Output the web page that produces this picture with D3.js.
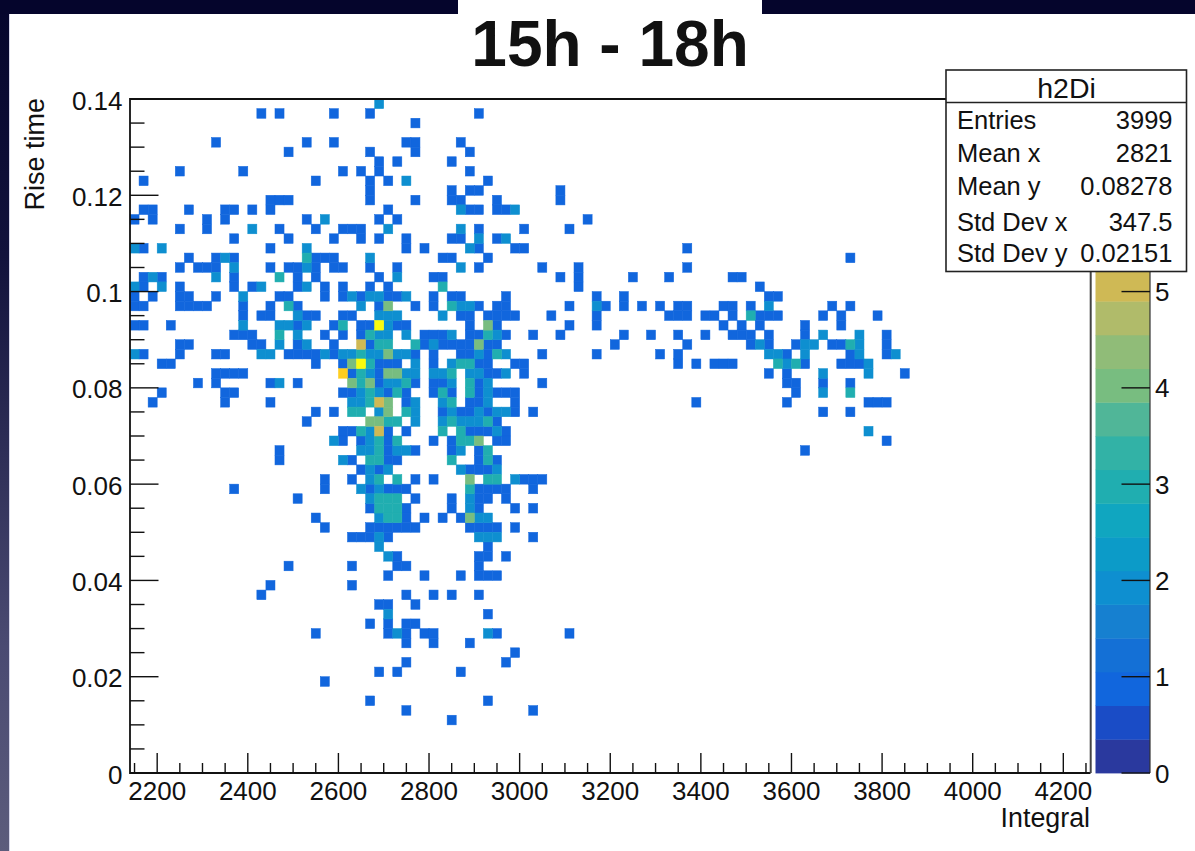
<!DOCTYPE html>
<html><head><meta charset="utf-8">
<script src="https://cdn.jsdelivr.net/npm/d3@7"></script>
<style>html,body{margin:0;padding:0;background:#fff;overflow:hidden}svg{display:block}text{font-family:"Liberation Sans",Arial,sans-serif;fill:#111}</style>
</head><body><svg id="c" width="1195" height="851"></svg>
<script>
// Bin edges: integral bin = 2140 + 20*i, rise-time bin = 0.002*j. Each list: [j,[i,i,...]]
const xBinStart = 2140, xBinWidth = 20, yBinWidth = 0.002;
const count1 = [[68,[14,16,22,26,38]],[67,[31]],[65,[9,19,22,30,31,36]],[64,[17,26,31,37]],[63,[27,29,35]],[62,[5,12,23,25,27,37]],
[61,[1,20,26,28,39]],[60,[26,35,37,38,47]],[59,[15,16,17,26,31,35,36,40,47]],[58,[1,2,6,10,11,13,15,28,37,38,40,41]],
[57,[0,2,8,10,19,27,29,50]],[56,[5,8,16,20,23,24,25,38,43,48]],[55,[11,17,22,25,27,30,35,36,40]],[54,[1,15,30,32,38,42,43,61]],
[53,[6,9,11,20,21,22,34,35,39,79]],[52,[5,7,8,9,15,17,18,20,22,23,26,29,38,45,49,61]],[51,[1,3,11,18,20,27,33,34,47,49,55,59,66,67]],
[50,[1,5,11,13,18,21,23,26,28,49,69]],[49,[0,2,5,6,9,16,17,21,23,25,28,29,33,35,36,41,51,54,70,71]],
[48,[0,1,5,6,7,8,12,15,18,27,31,33,38,40,41,48,52,54,56,58,60,61,65,66,68,77,79]],
[47,[12,14,15,19,20,23,24,36,37,39,40,41,42,46,51,59,60,61,63,64,66,69,70,71,76,78,82]],
[46,[0,1,4,18,22,25,26,29,30,37,40,48,51,65,67,69,74,78]],[45,[11,12,13,21,23,25,32,33,34,37,38,41,44,47,54,57,60,63,66,67,68,70,74,83]],
[44,[5,6,13,14,18,22,26,32,34,35,36,37,39,40,53,61,68,70,73,77,78,83]],[43,[1,5,9,10,17,18,19,20,22,31,33,36,37,39,45,51,58,60,72,79,83]],
[42,[3,4,20,23,27,28,29,33,38,39,42,43,60,62,64,65,66,74,78,79,80]],[41,[9,10,11,12,24,27,39,40,43,70,72,85]],
[40,[7,9,15,18,27,31,33,34,38,45,72,73,76,79]],[39,[3,10,11,23,24,28,30,33,35,38,40,41,42,73]],[38,[2,10,15,30,37,38,42,62,72,81,82,83]],
[37,[20,22,34,36,37,39,42,44,76,79]],[36,[19,40]],[35,[23,24,28,30,37,38,39,41]],[34,[23,25,28,33,35,40,41,83]],[33,[16,28,31,35,38,74]],
[32,[16,24,28,29,38,40]],[31,[25,27,37,38,39]],[30,[21,24,31,33,43,44,45]],[29,[11,21,26,28,29,30,38,39,40,41,44]],[28,[18,31,35,38,39,41]],
[27,[26,30,35,38,42,44]],[26,[20,30,32,34,36]],[25,[21,26,27,28,29,30,31,37,38,39,40,42]],[24,[24,25,26,28,44]],[23,[39]],[22,[29,38,39,41]],
[21,[17,24,29,30,38]],[20,[28,32,36,38,39,40]],[19,[15,24]],[18,[14,30,33,35,38]],[17,[27,28,31]],[16,[39]],[15,[26,28,30,31]],
[14,[20,28,30,32,33,40,48]],[13,[30,33,37]],[12,[42]],[11,[30,41]],[10,[27,29,36]],[9,[21]],[7,[26,39]],[6,[30,44]],[5,[35]]];
const count2 = [[69,[27]],[61,[30]],[58,[36,42]],[57,[21]],[56,[13,28,36]],[55,[38,41]],[54,[0,3,19,37]],[53,[10,26]],[52,[11,19,36]],
[51,[2,9,29]],[50,[0,3,14,19]],[49,[12,24,26,27,30]],[48,[25,36,37,51,70]],[47,[18,27,28,29,34]],[46,[12,16,17,19,28]],
[45,[18,27,28,30,35,40,76,80]],[44,[16,19,33,69,74,75,80]],[43,[0,14,15,21,23,24,26,27,29,30,38,41,70,71,74,80,84]],[42,[31,35,72,81]],
[41,[26,30,31,33,34,37,38,41,76,81]],[40,[16,28,29,35,39]],[39,[25,27,39,76]],[38,[24,25,31,34,39]],[37,[27,31,35,38,40,41]],[36,[31,34,36,37,38]],
[35,[26,40,81]],[34,[22,26]],[33,[25,26,29,30,36]],[32,[23]],[31,[26,28,36,40]],[30,[26,42]],[29,[25,27]],[28,[26,37]],[27,[37]],[26,[27,38,39]],
[24,[27,38,39,40]],[23,[27]],[22,[28]],[16,[28]],[14,[29,39]]];
const count3 = [[53,[19]],[51,[16]],[50,[34]],[48,[17,35]],[47,[68]],[46,[23]],[45,[16,26,39]],[44,[27,28,31,79]],[43,[25,40]],[42,[26,36,37,71,73]],
[41,[25,35]],[40,[25,30,37]],[39,[26,29,34,37,79]],[38,[26,35]],[37,[24,25,30]],[36,[28,29,35,39]],[35,[25,34,36]],[34,[27,29,36,37]],[33,[27,39]],
[32,[26,27,35,39]],[30,[27,29,39,40]],[29,[37]],[28,[27,28,29]],[27,[27,28,29]],[26,[28,29]]];
const count4 = [[48,[28]],[46,[39]],[44,[38]],[43,[28]],[42,[24]],[41,[28,29]],[40,[24,26]],[38,[28]],[37,[28]],[36,[26,27]],[34,[38]],[30,[37]],[26,[37]]];
const count5 = [[44,[25]],[38,[27]],[35,[27]]];
const count6 = [[41,[23]]];
const count7 = [[46,[27]],[42,[25]]];
const allCounts = [count1,count2,count3,count4,count5,count6,count7];

const xTicksMajor = [2200,2400,2600,2800,3000,3200,3400,3600,3800,4000,4200];
const yTicksMajor = [0,0.02,0.04,0.06,0.08,0.1,0.12,0.14];
const yTickLabels = ["0","0.02","0.04","0.06","0.08","0.1","0.12","0.14"];
const zTicks = [0,1,2,3,4,5];
const palette = ["#2a399e","#1a4cc6","#1166dd","#1470d6","#1680d0","#0e8fd0","#0c9bc8","#10a6c0","#20aeb0","#32b2a6","#50b698","#78bd80","#90bc78","#b0bb6a","#cfb955","#e2bc48","#f2c23a","#ffce20","#fce418","#f9fb0e"];
const statsTitle = "h2Di";
const statsNames = ["Entries","Mean x","Mean y","Std Dev x","Std Dev y"];
const statsValues = ["3999","2821","0.08278","347.5","0.02151"];
const statsBase = [128.5,161.5,195,231,261.5];

const svg = d3.select("#c");
const defs = svg.append("defs");
const g = defs.append("linearGradient").attr("id","wall").attr("x1",0).attr("x2",0).attr("y1",0).attr("y2",1);
g.append("stop").attr("offset",0).attr("stop-color","#05052c");
g.append("stop").attr("offset",0.3).attr("stop-color","#12123c");
g.append("stop").attr("offset",0.76).attr("stop-color","#4a4a72");
g.append("stop").attr("offset",1).attr("stop-color","#5c5c7c");
svg.append("rect").attr("width",1195).attr("height",851).attr("fill","#fff");
svg.append("rect").attr("x",0).attr("y",0).attr("width",9).attr("height",851).attr("fill","url(#wall)");
svg.append("rect").attr("x",9).attr("y",14).attr("width",1).attr("height",837).attr("fill","#d6d6ea");
svg.append("rect").attr("x",0).attr("y",0).attr("width",458).attr("height",14).attr("fill","#05052c");
svg.append("rect").attr("x",762).attr("y",0).attr("width",433).attr("height",14).attr("fill","#05052c");

const x = d3.scaleLinear().domain([2140,4260]).range([130,1090.5]);
const y = d3.scaleLinear().domain([0,0.14]).range([773,99]);
const z = d3.scaleLinear().domain([0,7]).range([773,99]);
const band = d3.scaleQuantize().domain([0,7]).range(palette);

// colour bar
const zStep = 7/palette.length;
svg.append("g").selectAll("rect").data(palette).join("rect")
  .attr("x",1095.5).attr("width",54.5)
  .attr("y",(d,i)=>z((i+1)*zStep)).attr("height",(d,i)=>z(i*zStep)-z((i+1)*zStep)+0.4)
  .attr("fill",d=>d);
const cells = allCounts.flatMap((list,k)=>list.flatMap(([j,cols])=>cols.map(i=>({i,j,v:k+1}))));
svg.append("g").selectAll("rect").data(cells).join("rect")
  .attr("x",d=>x(xBinStart+d.i*xBinWidth))
  .attr("y",d=>y((d.j+1)*yBinWidth))
  .attr("width",d=>x(xBinStart+(d.i+1)*xBinWidth)-x(xBinStart+d.i*xBinWidth))
  .attr("height",d=>y(d.j*yBinWidth)-y((d.j+1)*yBinWidth))
  .attr("fill",d=>band(d.v-0.01))
  .attr("stroke",d=>band(d.v-0.01)).attr("stroke-width",0.5);

// axes
const ax = svg.append("g").attr("stroke","#111").attr("fill","none").attr("stroke-width",1.4);
ax.append("path").attr("d",`M${x.range()[1]},773H130V99H946`).attr("stroke-width",1.8);
ax.append("path").attr("d",`M1090.7,272V773`).attr("stroke","#444").attr("stroke-width",2);
ax.append("path").attr("d",`M1150,272V773`).attr("stroke","#333").attr("stroke-width",1.2);
const xMinor = d3.range(2150,4260,50).filter(v=>v%200!==0);
const yMinor = d3.range(0,0.1401,0.005).filter(v=>Math.abs(v/0.02-Math.round(v/0.02))>1e-6);
ax.selectAll(".xM").data(xTicksMajor).join("line").attr("x1",x).attr("x2",x).attr("y1",773).attr("y2",753);
ax.selectAll(".xm").data(xMinor).join("line").attr("x1",x).attr("x2",x).attr("y1",773).attr("y2",763);
ax.selectAll(".yM").data(yTicksMajor).join("line").attr("y1",y).attr("y2",y).attr("x1",130).attr("x2",158.5);
ax.selectAll(".ym").data(yMinor).join("line").attr("y1",y).attr("y2",y).attr("x1",130).attr("x2",144.5);
ax.selectAll(".zt").data(zTicks).join("line").attr("y1",z).attr("y2",z).attr("x1",1150).attr("x2",1121.5);

const fs = 26;
svg.append("g").selectAll("text").data(xTicksMajor).join("text").attr("x",x).attr("y",800).attr("text-anchor","middle").attr("font-size",fs).text(d=>d);
svg.append("g").selectAll("text").data(yTicksMajor).join("text").attr("x",122.5).attr("y",d=>y(d)+10.5).attr("text-anchor","end").attr("font-size",fs).text((d,i)=>yTickLabels[i]);
svg.append("g").selectAll("text").data(zTicks).join("text").attr("x",1155).attr("y",d=>z(d)+9.5).attr("font-size",fs).text(d=>d);
svg.append("text").attr("x",1090).attr("y",827).attr("text-anchor","end").attr("font-size",26.8).text("Integral");
svg.append("text").attr("transform","translate(44,98) rotate(-90)").attr("text-anchor","end").attr("font-size",27).text("Rise time");
svg.append("text").attr("x",610).attr("y",66).attr("text-anchor","middle").attr("font-size",64).attr("font-weight","bold").text("15h - 18h");

// stats box
svg.append("rect").attr("x",946).attr("y",70).attr("width",240.5).attr("height",201.5).attr("fill","#fff").attr("stroke","#222").attr("stroke-width",1.6);
svg.append("line").attr("x1",946).attr("x2",1186.5).attr("y1",102.5).attr("y2",102.5).attr("stroke","#222").attr("stroke-width",1.4);
svg.append("text").attr("x",1066.5).attr("y",97.5).attr("text-anchor","middle").attr("font-size",28.5).text(statsTitle);
svg.append("g").selectAll("text").data(statsNames).join("text").attr("x",957).attr("y",(d,i)=>statsBase[i]).attr("font-size",25.5).text(d=>d);
svg.append("g").selectAll("text").data(statsValues).join("text").attr("x",1172.5).attr("y",(d,i)=>statsBase[i]).attr("text-anchor","end").attr("font-size",25.5).text(d=>d);
</script></body></html>
